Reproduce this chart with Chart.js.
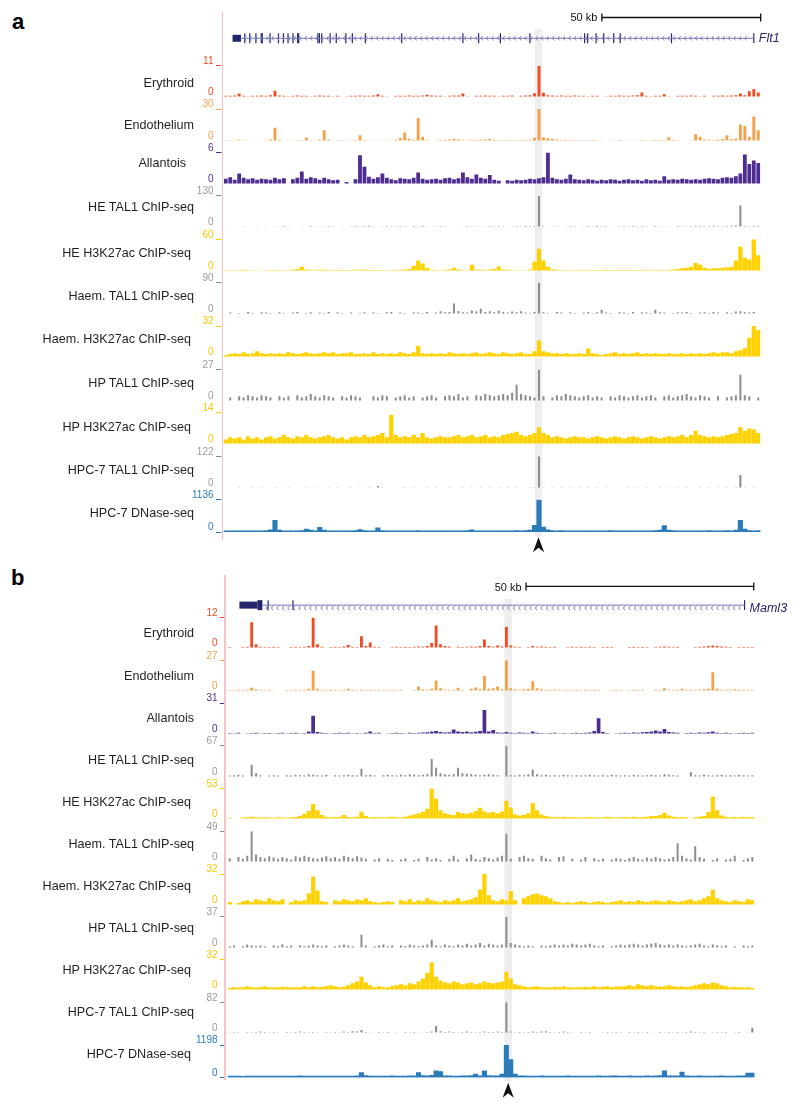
<!DOCTYPE html>
<html>
<head>
<meta charset="utf-8">
<script src="https://cdn.jsdelivr.net/npm/chart.js@4.4.1/dist/chart.umd.min.js"></script>
<style>
  body { margin: 0; background: #fff; width: 800px; height: 1108px; position: relative; overflow: hidden;
         font-family: "Liberation Sans", Arial, sans-serif; }
  canvas { position: absolute; left: 0; }
  .name { position: absolute; font-size: 12.6px; line-height: 14px; color: #231f20; white-space: nowrap; }
  .letter { position: absolute; font-size: 22px; line-height: 22px; font-weight: bold; color: #000; }
  .vline { position: absolute; width: 1.3px; background: #f7c4c4; z-index: 3; }
</style>
</head>
<body>
<script>
// ---- data: panel a (Flt1 locus), 120 bins ----
const namesA = ["Erythroid", "Endothelium", "Allantois", "HE TAL1 ChIP-seq", "HE H3K27ac ChIP-seq",
  "Haem. TAL1 ChIP-seq", "Haem. H3K27ac ChIP-seq", "HP TAL1 ChIP-seq", "HP H3K27ac ChIP-seq",
  "HPC-7 TAL1 ChIP-seq", "HPC-7 DNase-seq"];
const namesB = namesA.slice();
const maxA = [11, 30, 6, 130, 60, 90, 32, 27, 14, 122, 1136];
const maxB = [12, 27, 31, 67, 53, 49, 32, 37, 32, 82, 1198];

const eryA = [0.4,0.4,0.5,1.2,0.4,0.3,0.4,0.4,0.5,0.4,
  0.6,2.2,0.5,0.4,0.3,0.4,0.5,0.4,0.4,0.3,
  0.4,0.5,0.4,0.4,0.3,0.4,0,0.3,0.4,0.4,
  0.5,0.4,0.4,0.5,1.0,0.4,0.3,0,0.4,0.4,
  0.4,0.5,0.4,0.4,0.5,0.8,0.5,0.4,0.4,0.3,
  0.4,0.5,0.5,1.2,0.3,0,0.4,0.4,0.5,0.4,
  0.4,0.3,0.4,0.4,0.5,0,0.4,0.5,0.6,1.3,
  11,1.5,0.6,0.5,0.4,0.5,0.4,0.4,0.5,0.4,
  0.4,0.3,0.4,0.4,0,0.3,0.4,0.4,0.5,0.4,
  0.4,0.5,0.6,1.6,0.4,0.3,0.4,0.4,1.0,0.3,
  0,0.4,0.4,0.4,0.5,0.4,0.3,0.4,0,0.4,
  0.4,0.5,0.4,0.5,0.6,1.2,0.6,2.0,2.8,1.6];
const endoA = [0.8,0.6,0.8,1.2,0.8,0.6,0,0.5,0.7,0.8,
  1.5,12.5,1.2,0,0.6,0.8,0.7,0.9,3.4,1.0,
  0.8,1.5,10,1.5,0.8,0.7,0.8,0.6,0.8,1.0,
  5.5,1.0,0,0.8,0.7,0,0.6,0.8,1.2,3.0,
  8,2.0,1.2,21.7,4.0,1.0,0,0.8,1.0,1.2,
  1.5,2.2,1.4,1.0,0.8,1.2,1.0,1.4,1.5,2.0,
  1.2,0.9,0.8,1.0,1.0,0.8,0.9,1.0,1.2,3.0,
  30,3.5,2.5,2.2,1.5,1.0,1.2,1.0,0.8,0.9,
  0.8,0.7,0.9,0.8,0.7,0,0.6,0.8,0.9,0.8,
  0.7,0,0.8,0.9,0.8,0.7,0.9,1.0,1.0,3.5,
  0.9,0.7,0,0,0.8,6.4,4.0,1.5,1.2,1.0,
  1.4,1.8,5.5,1.6,2.0,15.6,14,4,23,10];
const allanA = [1.0,1.3,0.8,2.0,1.2,0.9,1.1,0.8,1.0,0.9,
  0.8,1.2,0.9,1.1,0,0.9,1.2,2.4,1.0,1.3,
  1.1,0.8,1.2,0.9,0.7,0.8,0,0.4,0,0.9,
  5.5,3.3,1.4,1.0,1.3,2.0,1.2,0.9,0.7,1.1,
  1.0,0.9,1.2,2.2,1.0,0.8,0.9,1.0,0.8,1.1,
  1.2,0.9,1.1,2.2,1.3,1.0,1.8,1.2,1.0,1.7,
  0.8,0.6,0,0.7,0.6,0.8,0.7,0.8,1.0,0.9,
  1.1,1.3,6,1.2,0.9,0.8,1.0,1.8,0.9,0.8,
  0.7,0.9,0.8,0.6,0.8,0.7,0.9,0.8,0.6,0.8,
  0.9,0.7,0.8,0.6,0.9,0.7,0.8,0.6,1.5,0.8,
  0.9,0.8,1.0,0.9,0.8,0.9,0.8,1.0,1.1,1.0,
  0.9,1.2,1.3,1.2,1.5,2.0,5.6,3.8,4.5,4.0];
const heTalA = [0,2,0,2,3,2,0,3,2,3,
  2,3,2,4,3,2,0,3,2,4,
  3,2,3,4,3,2,3,0,3,4,
  3,4,5,3,2,3,4,3,3,4,
  3,2,4,3,5,3,2,3,4,3,
  2,0,3,2,4,3,3,2,3,4,
  3,4,3,2,3,4,3,5,4,4,
  130,4,2,3,3,2,3,4,3,2,
  3,4,3,5,3,4,3,2,3,4,
  3,4,3,4,3,2,4,3,0,3,
  2,4,3,3,4,5,4,3,4,5,
  4,3,4,5,6,90,4,3,5,4];
const heAcA = [1.5,1.8,1.5,2,2.5,2,1.5,1.2,0,1.5,
  1.8,2,1.8,1.5,1.8,2.5,4,8,3,2.5,
  2,3,2.5,2,1.8,2.5,2,1.8,2,2.5,
  2.5,3,2.5,2,1.8,2,1.5,1.8,2,2.5,
  3,4,10,20,14,6,2.5,2,1.5,2.5,
  3,6,3,2,1.5,12,3,2.5,2,3,
  4,8.4,3,2.5,2,1.5,1.2,1.5,3,18,
  42,20,8,3.5,2.5,2,1.8,1.5,2,2.5,
  2,2.5,2,1.8,2,2.5,2,1.8,2,2.5,
  2,1.8,2,2.5,2,1.8,2.2,2,1.8,2.5,
  3,4,5,6,8,15,12,6,4,5,
  5,6,7,8,20,46,25,22,60,30];
const haemTalA = [0,4,0,3,0,6,3,0,5,4,
  3,0,5,3,0,4,6,0,3,5,
  0,4,3,6,0,5,3,0,4,0,
  3,5,0,4,3,0,5,6,0,4,
  3,0,5,4,3,6,0,4,8,5,
  6,30,8,5,4,10,7,15,6,8,
  5,9,6,4,7,5,8,4,3,6,
  90,5,3,0,6,4,0,5,3,0,
  4,6,3,5,12,4,3,0,5,4,
  3,6,0,5,4,3,12,5,4,0,
  3,5,4,6,3,0,4,5,3,6,
  4,0,5,3,7,8,5,4,6,0];
const haemAcA = [2,3,4,3,5,3,4,6,4,3,
  4,3,4,3,5,4,3,4,5,4,
  3,4,5,4,5,3,4,4,5,3,
  3,4,3,5,3,4,3,4,3,5,
  4,3,5,11.4,4,3,4,3,4,3,
  5,4,3,4,3,4,5,3,4,5,
  4,3,5,4,3,4,5,3,3,6,
  17,6,5,4,4,3,4,3,3,4,
  3,8.8,4,3,2,3,4,5,3,4,
  3,4,5,3,4,3,4,3,3,4,
  3,3,4,3,4,3,4,3,4,5,
  4,5,5,4,6,7,9,20,32,28];
const hpTalA = [0,3,0,4,3,5,4,3,5,4,
  3,0,4,3,4,0,5,3,4,6,
  4,3,5,4,3,0,4,3,5,4,
  3,0,0,4,3,5,4,0,3,4,
  5,3,4,0,3,4,5,3,0,4,
  5,4,6,3,4,0,5,4,6,5,
  4,5,6,5,7,14,6,5,4,3,
  27,4,0,3,5,4,6,5,4,3,
  4,5,3,4,3,0,4,3,5,4,
  3,4,5,3,4,5,3,0,4,5,
  3,4,5,6,4,3,5,4,3,0,
  4,0,3,4,5,22.4,5,4,0,3];
const hpAcA = [2,3,2.5,3,2,3.5,2.5,3,2,3,
  3.5,2.5,3,4,3,2.5,3.5,3,4,3,
  2.5,3,3.5,4,3,2.5,3,2,3,3.5,
  3,4,3,3.5,4,5,3,13,4,3,
  3.5,3,4,3,5,3,2.5,3,3.5,3,
  3,3.5,4,3,3.5,4,3,3.5,4,3,
  3.5,3,4,4.5,5,5.5,4,3.5,4,5,
  7.5,5,4,3,3.5,3,2.5,3,3.5,3,
  3,2.5,3,3.5,3,2.5,3,3.5,3,2.5,
  3,3.5,3,2.5,3,3.5,3,2.5,3,3.5,
  3,3.5,4,3,4,6,4,3.5,3,3.5,
  3,3.5,4,4.5,5,7.5,6,7,6.5,5];
const hpcTalA = [0,2,2,3,2,2,3,2,3,2,
  2,3,2,2,3,2,0,2,3,2,
  3,2,2,3,2,3,2,2,3,2,
  3,2,3,2,8,3,0,0,0,2,
  3,2,3,2,2,3,2,3,2,2,
  3,2,2,3,2,3,2,3,2,3,
  2,3,2,3,2,3,2,2,3,3,
  122,3,2,3,2,3,2,3,2,3,
  2,3,2,3,2,3,2,0,0,2,
  3,2,3,2,3,2,2,3,2,3,
  2,3,2,3,2,2,3,2,3,2,
  3,2,3,2,3,50,3,2,3,2];
const dnaseA = [45,45,50,45,50,45,50,45,50,55,
  80,416,70,50,45,50,45,55,110,70,
  50,170,70,50,45,50,45,50,45,55,
  90,55,50,50,150,60,50,45,50,45,
  50,45,50,55,50,45,50,45,50,45,
  45,50,45,50,55,80,50,45,50,45,
  45,50,45,50,45,55,50,60,70,240,
  1136,180,80,60,50,55,50,45,50,45,
  50,45,50,45,50,45,55,50,45,50,
  45,50,45,50,45,50,55,70,230,70,
  55,50,45,50,45,50,45,50,55,50,
  45,50,55,50,70,416,110,60,50,55];

// ---- data: panel b (Maml3 locus), 120 bins ----
const eryB = [0.4,0,0,0.4,0.5,10.1,1.5,0.5,0.4,0.4,
  0.5,0.4,0,0,0.4,0.5,0.4,0.5,0.8,12,
  1.5,0.5,0,0.4,0.5,0.4,0.6,1.2,0.5,0.4,
  4.6,0.8,2.2,0.5,0.4,0,0,0.4,0.5,0.4,
  0.5,0.4,0.5,0.6,0.5,0.8,2.0,8.9,1.5,0.8,
  0.6,0,0.5,0.4,0.5,0.6,0.5,0.8,3.3,0.8,
  0.5,1.0,0.6,8.4,1.0,0.5,0.4,0,0.4,0.8,
  0.5,0.6,0.5,0.4,0.5,0,0,0.4,0.5,0.4,
  0.5,0.4,0.5,0.4,0,0.4,0.5,0.4,0,0,
  0,0.4,0.5,0.4,0.5,0.4,0,0.4,0.5,0.6,
  0.5,0.4,0.5,0,0,0,0.4,0.5,0.6,0.8,
  1.0,0.8,0.6,0.5,0.4,0,0.4,0.5,0.4,0.4];
const endoB = [0.8,0.8,1.0,0.8,1.0,2.9,1.5,0.8,0.8,1.0,
  0.6,0,0,0.8,0.8,1.0,0.8,1.2,2.0,17.8,
  2.0,1.0,0.8,1.0,1.2,0.8,1.0,2.0,1.0,0.8,
  1.0,0.8,1.0,0.8,1.0,0.8,0.8,1.0,0.8,1.0,
  0,0,0.8,4.0,1.5,1.2,2.0,9.2,2.5,1.2,
  1.0,1.2,2.9,0.8,0,2.0,3.0,1.5,13.5,2.0,
  2.5,4.0,1.5,27,2.5,1.5,1.2,1.5,2.0,8.6,
  2.5,1.5,1.2,1.0,1.2,1.0,0.8,1.0,0.8,1.0,
  0.8,1.0,0.8,1.0,1.2,0,0,0.8,1.0,0.8,
  0,0.8,1.0,0.8,1.0,0,0,1.0,0.8,2.5,
  1.0,0.8,1.0,2.0,1.0,1.2,1.0,1.2,1.5,2.0,
  16.4,2.0,1.2,1.0,1.2,1.5,1.0,1.0,1.0,0.8];
const allanB = [1.0,0.8,1.2,0,0.8,1.0,1.2,0.8,1.0,1.0,
  0.8,1.0,1.2,0.8,1.0,1.2,0.8,1.0,2.5,18.3,
  2.0,1.2,1.0,0.8,1.0,1.2,1.0,1.2,0.8,1.0,
  0.8,1.2,2.5,1.0,1.2,0,0.8,1.0,1.2,1.0,
  0.8,1.2,1.0,1.2,1.5,1.8,2.5,3.0,2.0,1.5,
  1.8,4.5,2.5,2.0,2.5,1.8,2.2,3.0,24,2.5,
  4.0,1.5,1.2,2.0,1.2,1.0,1.5,1.2,1.0,2.5,
  1.2,1.0,0.8,1.0,1.2,0.8,1.0,0.8,1.0,1.2,
  1.0,1.2,1.5,3.0,15.8,2.0,1.0,0,0.8,1.0,
  1.2,1.0,1.5,1.2,1.8,2.0,2.5,3.5,2.5,5.0,
  2.0,1.5,1.2,0,1.0,1.2,1.0,1.5,1.2,1.8,
  2.5,1.2,1.0,1.2,1.0,0.8,1.0,1.2,1.0,1.2];
const heTalB = [3,4,5,3,0,26,8,4,0,3,
  4,3,0,4,3,5,4,3,6,5,
  4,3,5,0,4,3,4,5,4,3,
  17.6,4,5,3,0,4,5,4,3,5,
  4,6,5,4,5,6,38.8,20,8,6,
  5,6,19.7,8,7,6,5,4,5,6,
  5,4,0,67,4,3,5,4,6,16,
  6,4,5,3,4,3,5,4,3,4,
  3,4,5,4,3,4,3,5,4,3,
  4,3,5,4,3,4,5,4,3,6,
  5,4,3,0,0,10,4,3,5,4,
  3,4,5,3,4,3,5,4,3,4];
const heAcB = [2,0,0,2.5,3,4,3,2.5,3,2.5,
  2,3,2.5,2,3,3.5,5,9,14,26,
  15,7,4,3,3.5,4,7,3.5,3,4,
  12.8,5,3,3.5,3,2.5,3,4,3,2.5,
  4,6,8,10,12,18,53,35,15,10,
  8,7,12,10,9,11,14,19.5,13,11,
  12,10,13,31.8,20,8,6,7,10,28,
  15,8,5,4,3.5,3,4,3,3.5,3,
  2.5,3,3.5,3,2.5,3,4,3,2.5,3,
  3.5,3,4,3,3.5,4,5,5,7,11,
  6,4,3,3.5,3,0,3,4,5,12,
  39,15,6,4,3,3.5,3,4,3,3.5];
const haemTalB = [6,0,8,5,10,49,12,8,6,9,
  7,5,8,6,4,9,7,10,8,6,
  5,7,9,6,8,5,10,8,6,9,
  7,5,0,4,6,0,5,3,0,4,
  6,0,3,5,0,8,4,6,3,0,
  5,10,4,0,6,12,5,3,8,6,
  4,7,10,45,5,0,8,10,6,5,
  0,10,6,4,0,8,9,0,5,0,
  4,8,0,6,3,5,0,4,6,5,
  3,6,8,5,4,7,5,8,6,4,
  5,8,30,10,6,4,25,8,5,0,
  3,6,0,4,5,10,0,3,6,8];
const haemAcB = [3,0,2,4,5,3,6,5,4,7,
  5,4,6,0,3,5,4,5,12,29.3,
  15,4,3,0,5,4,6,5,4,6,
  5,7,4,3,2,3,4,3,0,5,
  4,6,3,5,4,7,5,4,3,5,
  4,5,7,4,5,6,8,16,32,10,
  5,4,6,5,14.5,5,0,7,9,11,
  12,10,9,7,4,3,2,3,2,3,
  4,3,2,3,4,3,2,3,4,5,
  3,4,3,5,4,3,4,5,4,3,
  5,4,3,4,5,6,4,5,7,9,
  15.8,7,5,4,3,5,4,3,6,5];
const hpTalB = [2,3,0,2,4,3,2,3,2,0,
  3,2,4,2,3,0,3,2,3,4,
  3,2,3,0,2,3,4,3,2,0,
  15.6,3,0,2,3,4,2,3,0,3,
  2,4,3,2,3,4,9.7,3,2,4,
  3,2,4,3,5,3,4,6,3,5,
  4,3,4,37,6,4,3,2,3,2,
  0,3,2,3,4,3,4,3,5,4,
  3,4,5,3,2,3,0,2,3,4,
  3,4,5,4,3,4,5,6,4,3,
  4,3,4,3,2,3,4,5,3,2,
  4,3,2,3,0,2,0,3,2,3];
const hpAcB = [2,3,2.5,3,4,3,2.5,3,4,3,
  2.5,3,3.5,3,2.5,3,3,4,3,4,
  3,3.5,4,5,4,3,3.5,5,7,9,
  14,8,5,3,4,3,3,4,5,6,
  5,7,6,9,12,18,29,14,10,8,
  7,9,8,6,7,8,6,7,9,8,
  7,8,9,19,12,6,5,4,3,3.5,
  4,3,2.5,3,3.5,3,4,3,2.5,3,
  3,3.5,3,4,3,3.5,4,3,3.5,4,
  4,5,4,6,5,4,5,4,3.5,4,
  5,4,3.5,4,3,4,5,6,7,6,
  8,7,5,4,3,3.5,3,2.5,3,2];
const hpcTalB = [2,3,2,0,3,2,3,4,3,2,
  3,2,0,3,2,3,4,3,2,3,
  2,0,3,2,3,2,4,3,5,4,
  8,3,2,0,3,2,3,0,2,0,
  3,2,3,2,0,3,4,19,5,3,
  4,3,2,3,4,3,2,3,4,3,
  3,4,3,82,4,2,3,2,3,4,
  3,4,5,3,2,3,4,3,2,0,
  3,2,3,0,0,2,3,2,3,2,
  0,3,2,3,2,3,2,0,3,2,
  3,2,3,2,3,4,3,2,3,0,
  2,3,2,3,0,2,3,0,2,14];
const dnaseB = [55,60,58,54,60,57,62,56,58,60,
  56,59,62,55,58,60,65,57,60,56,
  58,62,56,60,57,59,63,58,60,70,
  190,75,60,58,62,60,57,64,60,62,
  60,65,70,190,75,68,90,250,220,70,
  65,60,62,68,65,75,130,70,250,80,
  65,70,130,1198,668,130,70,65,60,62,
  60,65,62,60,58,62,60,64,61,60,
  62,60,58,63,65,60,62,70,65,60,
  62,65,60,63,60,65,62,68,75,250,
  70,65,68,210,70,62,60,65,62,60,
  60,63,65,60,62,60,65,70,170,170];

// gene models, in bin units
const flt1Box = [1.52, 3.40];
const flt1Span = [3.40, 118.0];
const flt1Exons = [4.26, 5.37, 6.74, 7.93, 8.19, 9.90, 11.78, 12.89, 13.92, 15.03, 16.06, 16.31,
  20.59, 20.93, 21.45, 23.33, 24.70, 26.83, 28.29, 31.20, 39.32, 53.00, 56.51, 61.38, 67.97,
  80.20, 80.88, 82.76, 84.47, 86.70, 88.15, 99.61, 118.0];
const maml3Utr = [2.21, 6.31];
const maml3Cds = [6.31, 7.44];
const maml3Span = [7.44, 117.24];
const maml3Exons = [8.75, 14.41, 117.24];
const scaleBarA = [84.05, 119.54];
const scaleBarB = [67.48, 119.33];
const scaleLabel = "50 kb";
const highlightA = [69.1, 70.7];
const highlightB = [62.55, 64.28];

// ---- styles ----
const FONT = '"Liberation Sans", Arial, sans-serif';
Chart.defaults.font.family = FONT;
const ERY = '#ef4b24', ENDO = '#f5a14b', ALLAN = '#4f2c8f', TAL = '#8c8c8c', ACK = '#ffd100', DNASE = '#2a7bba';
const NAVY = '#25256f', INTRON = '#7474b8', HL = '#eeeeee';
const trackColors = [ERY, ENDO, ALLAN, TAL, ACK, TAL, ACK, TAL, ACK, TAL, DNASE];
const tickColors = [ERY, ENDO, ALLAN, '#9a9a9a', '#f5c800', '#9a9a9a', '#f5c800', '#9a9a9a', '#f5c800', '#9a9a9a', DNASE];
const barFill = [0.65, 0.65, 0.85, 0.45, 0.95, 0.45, 0.95, 0.45, 0.95, 0.45, 1];

const panelA = {
  series: [eryA, endoA, allanA, heTalA, heAcA, haemTalA, haemAcA, hpTalA, hpAcA, hpcTalA, dnaseA],
  maxes: maxA, names: namesA,
  nameY: [83.3, 126, 163.3, 207.7, 253.3, 297, 340, 384, 428, 471, 514],
  nameRight: [194, 194, 186, 194, 191, 194, 191, 194, 191, 194, 194],
  left: 223.5, right: 760.5, tick0: 65.7, step: 43.4, dataH: 32.5,
  geneTop: 0, geneBottom: 56, geneY: 38.3, barY: 17.5,
  hl: highlightA, scaleBar: scaleBarA, line: [222.8, 12, 541],
  gene: { name: 'Flt1', span: flt1Span, boxes: [[flt1Box, 7]], exons: flt1Exons },
  letter: 'a', letterPos: [12, 10.7]
};
const panelB = {
  series: [eryB, endoB, allanB, heTalB, heAcB, haemTalB, haemAcB, hpTalB, hpAcB, hpcTalB, dnaseB],
  maxes: maxB, names: namesB,
  nameY: [634, 676.4, 718.4, 760.8, 802.8, 845.1, 886.4, 929.1, 970.8, 1012.8, 1055.2],
  nameRight: [194, 194, 194, 194, 191, 194, 191, 194, 191, 194, 191],
  left: 227.5, right: 754.5, tick0: 617.5, step: 42.75, dataH: 32.7,
  geneTop: 560, geneBottom: 616, geneY: 608, barY: 587,
  hl: highlightB, scaleBar: scaleBarB, line: [224.9, 575, 1080],
  gene: { name: 'Maml3', span: maml3Span, boxes: [[maml3Utr, 7], [maml3Cds, 10]], exons: maml3Exons },
  letter: 'b', letterPos: [11, 567.2]
};

function addCanvas(top, height, z) {
  const c = document.createElement('canvas');
  c.width = 800;
  c.height = height;
  c.style.top = top + 'px';
  if (z) c.style.zIndex = z;
  document.body.appendChild(c);
  return c;
}

function addDiv(cls, text, css) {
  const d = document.createElement('div');
  d.className = cls;
  d.textContent = text;
  Object.assign(d.style, css);
  document.body.appendChild(d);
}

function highlighter(p, yTop, yBottom, arrowAt) {
  return {
    id: 'highlight',
    beforeDatasetsDraw(chart) {
      const x = chart.scales.x, ctx = chart.ctx;
      const x0 = x.getPixelForValue(p.hl[0]), x1 = x.getPixelForValue(p.hl[1]);
      ctx.save();
      ctx.fillStyle = HL;
      ctx.fillRect(x0, yTop, x1 - x0, yBottom - yTop);
      ctx.restore();
    },
    afterDatasetsDraw(chart) {
      if (arrowAt == null) return;
      const x = chart.scales.x, ctx = chart.ctx;
      const cx = (x.getPixelForValue(p.hl[0]) + x.getPixelForValue(p.hl[1])) / 2;
      const y = arrowAt;
      ctx.save();
      ctx.fillStyle = '#111';
      ctx.beginPath();
      ctx.moveTo(cx, y);
      ctx.lineTo(cx + 5.6, y + 15);
      ctx.lineTo(cx, y + 10.5);
      ctx.lineTo(cx - 5.6, y + 15);
      ctx.closePath();
      ctx.fill();
      ctx.restore();
    }
  };
}

function trackChart(p, i) {
  const n = p.series.length;
  const tick = p.tick0 + p.step * i;
  const top = Math.round(tick - 12);
  const zero = tick + p.dataH;
  const last = i === n - 1;
  const height = last ? Math.round(zero + 26) - top : Math.round(tick + p.step - 12) - top;
  const padTop = tick - top;
  const padBottom = height - padTop - p.dataH;
  const max = p.maxes[i];
  const canvas = addCanvas(top, height);
  const zeroRel = zero - top;
  new Chart(canvas, {
    type: 'bar',
    data: {
      labels: p.series[i].map((v, k) => k),
      datasets: [{
        data: p.series[i],
        backgroundColor: trackColors[i],
        borderWidth: 0,
        barPercentage: barFill[i],
        categoryPercentage: 1
      }]
    },
    options: {
      responsive: false, animation: false, events: [], devicePixelRatio: 1,
      layout: { padding: { top: padTop, bottom: padBottom, left: 0, right: 800 - p.right } },
      plugins: { legend: { display: false }, tooltip: { enabled: false } },
      scales: {
        x: { display: false },
        y: {
          min: 0, max: max,
          afterBuildTicks: s => { s.ticks = [{ value: 0 }, { value: max }]; },
          afterFit: s => { s.width = p.left; s.paddingTop = 0; s.paddingBottom = 0; },
          border: { display: false },
          grid: { drawOnChartArea: false, tickLength: 7.5, tickColor: trackColors[i], tickWidth: 1,
                  tickBorderDash: [5.5, 20] },
          ticks: { color: tickColors[i], font: { size: 10 }, padding: 2.5, labelOffset: -4.5,
                   callback: v => String(v) }
        }
      }
    },
    plugins: [highlighter(p, 0, last ? zeroRel + 4 : height, last ? zeroRel + 5 : null)]
  });
}

function geneChart(p) {
  const g = p.gene;
  const u = (p.geneY - p.barY) / 2;
  const h = p.geneBottom - p.geneTop;
  const canvas = addCanvas(p.geneTop, h, 2);
  const pt = (x, y) => ({ x: x, y: y });
  const datasets = [
    { data: [pt(g.span[0], 1), pt(g.span[1], 1)], showLine: true, borderColor: INTRON, borderWidth: 1,
      pointRadius: 0, clip: false }
  ];
  g.boxes.forEach(b => datasets.push({
    data: [pt(b[0][0], 1), pt(b[0][1], 1)], showLine: true, borderColor: NAVY, borderWidth: b[1],
    borderCapStyle: 'butt', pointRadius: 0, clip: false
  }));
  datasets.push({
    data: g.exons.map(x => pt(x, 1)), showLine: false, pointStyle: 'line', pointRotation: 90,
    pointRadius: 5, pointBorderColor: NAVY, pointBorderWidth: 1.2, clip: false
  });
  datasets.push({
    data: [pt(p.scaleBar[0], 3), pt(p.scaleBar[1], 3)], showLine: true, borderColor: '#111', borderWidth: 1.3,
    pointStyle: 'line', pointRotation: 90, pointRadius: 4, pointBorderColor: '#111', pointBorderWidth: 1.3,
    clip: false
  });

  const decor = {
    id: 'geneDecor',
    beforeDatasetsDraw(chart) {
      const x = chart.scales.x, ctx = chart.ctx;
      const x0 = x.getPixelForValue(p.hl[0]), x1 = x.getPixelForValue(p.hl[1]);
      ctx.save();
      ctx.fillStyle = HL;
      const y0 = p.geneY - 9 - p.geneTop;
      ctx.fillRect(x0, y0, x1 - x0, h - y0);
      ctx.restore();
    },
    afterDatasetsDraw(chart) {
      const x = chart.scales.x, ctx = chart.ctx;
      const gy = p.geneY - p.geneTop;
      const s0 = x.getPixelForValue(g.span[0]), s1 = x.getPixelForValue(g.span[1]);
      ctx.save();
      // strand chevrons along the intron line
      ctx.strokeStyle = INTRON;
      ctx.lineWidth = 0.9;
      for (let cx = s0 + 4; cx < s1 - 3; cx += 5.5) {
        ctx.beginPath();
        ctx.moveTo(cx + 1.2, gy - 2.2);
        ctx.lineTo(cx - 0.6, gy);
        ctx.lineTo(cx + 1.2, gy + 2.2);
        ctx.stroke();
      }
      ctx.fillStyle = NAVY;
      ctx.font = 'italic 12.5px ' + FONT;
      ctx.textAlign = 'left';
      ctx.textBaseline = 'middle';
      ctx.fillText(g.name, s1 + 5, gy + 0.5);
      ctx.fillStyle = '#111';
      ctx.font = '11px ' + FONT;
      ctx.textAlign = 'right';
      ctx.fillText(scaleLabel, x.getPixelForValue(p.scaleBar[0]) - 4.5, p.barY - p.geneTop + 0.5);
      ctx.restore();
    }
  };

  new Chart(canvas, {
    type: 'scatter',
    data: { datasets: datasets },
    options: {
      responsive: false, animation: false, events: [], devicePixelRatio: 1,
      layout: { padding: { left: p.left, right: 800 - p.right,
                           top: p.barY - u / 2 - p.geneTop, bottom: h - (p.geneY + u / 2 - p.geneTop) } },
      plugins: { legend: { display: false }, tooltip: { enabled: false } },
      scales: {
        x: { type: 'linear', min: -0.5, max: 119.5, display: false },
        y: { type: 'linear', min: 0.5, max: 3.5, display: false }
      }
    },
    plugins: [decor]
  });
}

function buildPanel(p) {
  p.series.forEach((s, i) => trackChart(p, i));
  geneChart(p);
  p.names.forEach((name, i) => addDiv('name', name, {
    right: (800 - p.nameRight[i]) + 'px', top: (p.nameY[i] - 7.8) + 'px'
  }));
  addDiv('letter', p.letter, { left: p.letterPos[0] + 'px', top: p.letterPos[1] + 'px' });
  addDiv('vline', '', { left: (p.line[0] - 0.65) + 'px', top: p.line[1] + 'px', height: (p.line[2] - p.line[1]) + 'px' });
}

buildPanel(panelA);
buildPanel(panelB);
</script>
</body>
</html>
